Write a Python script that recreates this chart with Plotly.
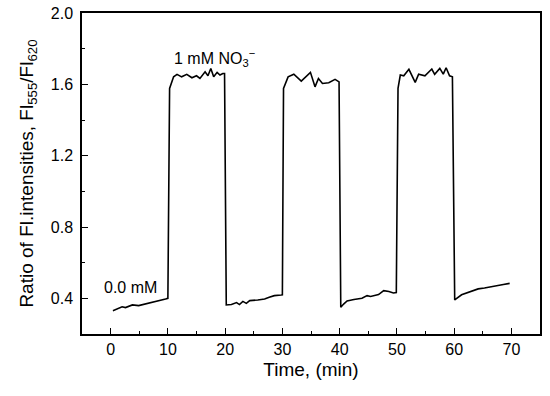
import plotly.graph_objects as go

time_min = [0.4, 1.2, 2.0, 2.6, 3.8, 4.9, 6.1, 7.2, 8.4, 9.2, 9.6, 10.0,
            10.3, 11.0, 11.6, 12.4, 13.3, 14.2, 15.0, 15.6, 16.5, 17.0, 17.5, 18.0, 18.6, 19.1, 19.6, 19.9,
            20.2, 21.1, 22.0, 22.5, 23.1, 23.7, 24.3, 25.7, 26.9, 27.7, 28.6, 29.8, 30.0,
            30.2, 31.0, 32.0, 33.3, 34.9, 35.7, 36.3, 37.0, 38.1, 39.2, 39.9,
            40.2, 40.7, 41.3, 42.5, 43.9, 44.8, 45.4, 46.8, 47.7, 48.6, 49.4, 49.9,
            50.2, 50.6, 51.2, 52.1, 53.2, 53.8, 54.9, 56.1, 56.6, 57.5, 58.1, 58.6, 59.2, 59.7,
            60.1, 61.3, 62.5, 64.2, 65.3, 66.5, 67.6, 68.6, 69.7]
ratio = [0.331, 0.344, 0.353, 0.348, 0.363, 0.359, 0.368, 0.376, 0.383, 0.391, 0.396, 0.400,
         1.577, 1.642, 1.656, 1.642, 1.656, 1.637, 1.648, 1.633, 1.670, 1.648, 1.689, 1.642, 1.667, 1.652, 1.661, 1.661,
         0.363, 0.365, 0.376, 0.365, 0.383, 0.372, 0.387, 0.391, 0.396, 0.406, 0.415, 0.419, 0.420,
         1.577, 1.642, 1.657, 1.618, 1.667, 1.586, 1.633, 1.605, 1.609, 1.628, 1.614,
         0.350, 0.368, 0.385, 0.393, 0.400, 0.415, 0.410, 0.421, 0.443, 0.438, 0.430, 0.432,
         1.577, 1.652, 1.648, 1.684, 1.611, 1.657, 1.648, 1.686, 1.656, 1.689, 1.657, 1.693, 1.648, 1.642,
         0.391, 0.420, 0.435, 0.453, 0.458, 0.466, 0.475, 0.478, 0.484]

x_ticks = [0, 10, 20, 30, 40, 50, 60, 70]
y_ticks = [0.4, 0.8, 1.2, 1.6, 2.0]
y_tick_labels = ["0.4", "0.8", "1.2", "1.6", "2.0"]

FONT = "Liberation Sans, Arial, sans-serif"

fig = go.Figure()
fig.add_trace(go.Scatter(x=time_min, y=ratio, mode="lines",
                         line=dict(color="black", width=1.6), showlegend=False))

fig.add_annotation(x=10.7, y=1.75, xref="x", yref="y", xanchor="left", yanchor="middle",
                   text="1 mM NO<sub>3</sub><sup>−</sup>", showarrow=False,
                   font=dict(family=FONT, size=16, color="black"))
fig.add_annotation(x=3.5, y=0.463, xref="x", yref="y", xanchor="center", yanchor="middle",
                   text="0.0 mM", showarrow=False,
                   font=dict(family=FONT, size=16, color="black"))

axis_common = dict(showline=True, linecolor="black", linewidth=1.5, mirror=True,
                   ticks="inside", ticklen=6, tickwidth=1.3, tickcolor="black",
                   showgrid=False, zeroline=False, automargin=False,
                   tickfont=dict(family=FONT, size=16, color="black"))

fig.update_xaxes(range=[-5, 75], tickvals=x_ticks,
                 minor=dict(dtick=5, tick0=0, ticks="inside", ticklen=3, tickwidth=1.2, tickcolor="black"),
                 title=dict(text="Time, (min)", font=dict(family=FONT, size=19, color="black"), standoff=6),
                 **axis_common)
fig.update_yaxes(range=[0.2, 2.0], tickvals=y_ticks, ticktext=y_tick_labels,
                 ticklabelstandoff=4,
                 minor=dict(dtick=0.2, tick0=0.2, ticks="inside", ticklen=3, tickwidth=1.2, tickcolor="black"),
                 title=dict(text="Ratio of Fl.intensities, Fl<sub>555</sub>/Fl<sub>620</sub>",
                            font=dict(family=FONT, size=19, color="black"), standoff=12),
                 **axis_common)

fig.update_layout(width=550, height=396, margin=dict(l=82, r=10, t=13, b=62),
                  paper_bgcolor="white", plot_bgcolor="white",
                  font=dict(family=FONT, color="black"))

fig.write_html("out.html", config={"displayModeBar": False},
               post_script="document.body.style.margin='0';document.body.style.padding='0';")
